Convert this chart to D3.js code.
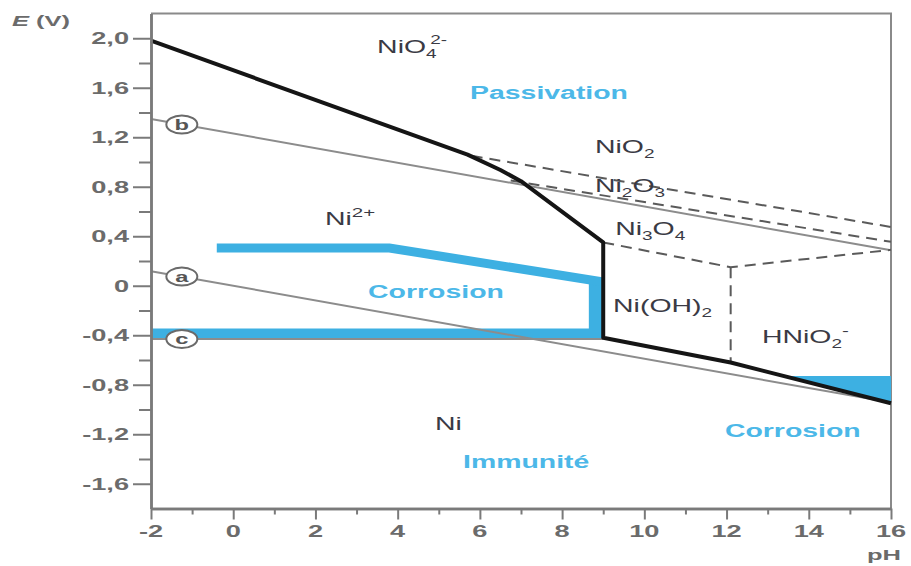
<!DOCTYPE html>
<html>
<head>
<meta charset="utf-8">
<script src="https://cdn.jsdelivr.net/npm/d3@7/dist/d3.min.js"></script>
<style>
  html, body { margin: 0; padding: 0; background: #fff; }
  svg { display: block; font-family: "Liberation Sans", Arial, sans-serif; }
</style>
</head>
<body>
<svg id="chart" width="911" height="566"></svg>
<script>
// Pourbaix diagram of nickel (E vs pH, 25 °C)

// axis ticks
const pHMajor = [-2, 0, 2, 4, 6, 8, 10, 12, 14, 16];
const pHMinor = [-1, 1, 3, 5, 7, 9, 11, 13, 15];
const EMajor = [2.0, 1.6, 1.2, 0.8, 0.4, 0, -0.4, -0.8, -1.2, -1.6];
const EMajorLabels = ["2,0", "1,6", "1,2", "0,8", "0,4", "0", "-0,4", "-0,8", "-1,2", "-1,6"];
const EMinor = [1.8, 1.4, 1.0, 0.6, 0.2, -0.2, -0.6, -1.0, -1.4];

// water stability lines (a: H2, b: O2) and Ni2+/Ni line (c)
const lineA = [[-2, 0.118], [16, -0.944]];
const lineB = [[-2, 1.348], [16, 0.286]];
const lineC = [[-2, -0.43], [9, -0.43]];

// solid boundary of the soluble / solid domains
const mainBoundary = [[-2, 1.98], [5.7, 1.06], [6.5, 0.935], [7.0, 0.845], [9, 0.35],
                      [9, -0.42], [12.1, -0.62], [16, -0.95]];

// dashed boundaries between oxides
const dashNiO2 = [[5.8, 1.05], [16, 0.475]];
const dashNi2O3 = [[6.75, 0.85], [16, 0.355]];
const dashNi3O4 = [[9, 0.35], [12.1, 0.15], [16, 0.29]];
const dashHNiO2 = [[12.1, 0.15], [12.1, -0.62]];

// corrosion outline (acid side) and alkaline corrosion area
const corrosionTop = [[-0.4, 0.305], [3.8, 0.305], [9, 0.03]];
const corrosionBand = [[-2, -0.345], [8.65, -0.345], [8.65, 0.06], [9, 0.04], [9, -0.425], [-2, -0.425]];
const alkalineCorrosion = [[13.4, -0.73], [16, -0.73], [16, -0.95]];

// line markers
const markers = [
  { id: "a", pH: -1.25, line: lineA },
  { id: "b", pH: -1.25, line: lineB },
  { id: "c", pH: -1.25, line: lineC }
];

// species and domain names: [pH, E, parts, kind]
const regionLabels = [
  [3.5, 1.88, [["NiO", ""], ["4", "sub"], ["2-", "supover"]], "species"],
  [5.76, 1.51, [["Passivation", ""]], "domain"],
  [8.8, 1.07, [["NiO", ""], ["2", "sub"]], "species"],
  [8.8, 0.757, [["Ni", ""], ["2", "sub"], ["O", ""], ["3", "sub"]], "species"],
  [9.29, 0.41, [["Ni", ""], ["3", "sub"], ["O", ""], ["4", "sub"]], "species"],
  [2.23, 0.49, [["Ni", ""], ["2+", "sup"]], "species"],
  [3.28, -0.10, [["Corrosion", ""]], "domain"],
  [9.24, -0.212, [["Ni(OH)", ""], ["2", "sub"]], "species"],
  [12.86, -0.463, [["HNiO", ""], ["2", "sub"], ["-", "sup"]], "species"],
  [4.91, -1.166, [["Ni", ""]], "species"],
  [5.59, -1.473, [["Immunité", ""]], "domain"],
  [11.96, -1.222, [["Corrosion", ""]], "domain"]
];

const SX = 1.58;      // horizontal text stretch
const SX_TICK = 1.7;  // stretch of tick labels

const svg = d3.select("#chart");
const x = d3.scaleLinear().domain([-2, 16]).range([151, 891]);
const y = d3.scaleLinear().domain([-1.8, 2.2]).range([508.5, 13.5]);
const line = d3.line().x(d => x(d[0])).y(d => y(d[1]));

const BLUE = "#3db0e2";
const BLUE_TEXT = "#4cb8e8";
const GRAY_LINE = "#8c8c8c";
const AXIS = "#7a7a7a";

// frame top and right
svg.append("path")
  .attr("d", `M${x(-2)},${y(2.2)}H${x(16)}V${y(-1.8)}`)
  .attr("fill", "none").attr("stroke", "#8a8a8a").attr("stroke-width", 2);

// corrosion shapes
svg.append("path").datum(corrosionBand).attr("d", d => line(d) + "Z")
  .attr("fill", BLUE);
svg.append("path").datum(corrosionTop).attr("d", line)
  .attr("fill", "none").attr("stroke", BLUE).attr("stroke-width", 9);
svg.append("path").datum(alkalineCorrosion).attr("d", d => line(d) + "Z")
  .attr("fill", BLUE);

// thin gray lines
[lineA, lineB, lineC].forEach(l => {
  svg.append("path").datum(l).attr("d", line)
    .attr("fill", "none").attr("stroke", GRAY_LINE).attr("stroke-width", 2);
});

// dashed boundaries
[dashNiO2, dashNi2O3, dashNi3O4, dashHNiO2].forEach(l => {
  svg.append("path").datum(l).attr("d", line)
    .attr("fill", "none").attr("stroke", "#5a5a5a").attr("stroke-width", 2)
    .attr("stroke-dasharray", "11,7");
});

// main boundary
svg.append("path").datum(mainBoundary).attr("d", line)
  .attr("fill", "none").attr("stroke", "#151515").attr("stroke-width", 4)
  .attr("stroke-linejoin", "round");

// line markers
function valueOn(l, p) {
  const [p0, e0] = l[0], [p1, e1] = l[l.length - 1];
  return e0 + (e1 - e0) * (p - p0) / (p1 - p0);
}
const mk = svg.selectAll("g.marker").data(markers).join("g")
  .attr("class", "marker")
  .attr("transform", d => `translate(${x(d.pH)},${y(valueOn(d.line, d.pH))})`);
mk.append("ellipse").attr("rx", 15.5).attr("ry", 9)
  .attr("fill", "#fff").attr("stroke", "#6a6a6a").attr("stroke-width", 2);
mk.append("text").text(d => d.id)
  .attr("text-anchor", "middle").attr("dy", "0.35em")
  .attr("transform", `scale(${SX},1)`)
  .attr("font-size", 15).attr("font-weight", "bold").attr("fill", "#555");

// axes
const yMajor = svg.append("g").attr("transform", `translate(${x(-2)},0)`)
  .call(d3.axisLeft(y).tickValues(EMajor).tickSize(18).tickSizeOuter(0).tickFormat(""));
const yMin = svg.append("g").attr("transform", `translate(${x(-2)},0)`)
  .call(d3.axisLeft(y).tickValues(EMinor).tickSize(12).tickSizeOuter(0).tickFormat(""));
const xMajor = svg.append("g").attr("transform", `translate(0,${y(-1.8)})`)
  .call(d3.axisBottom(x).tickValues(pHMajor).tickSize(11).tickSizeOuter(0).tickFormat(""));
const xMin = svg.append("g").attr("transform", `translate(0,${y(-1.8)})`)
  .call(d3.axisBottom(x).tickValues(pHMinor).tickSize(6).tickSizeOuter(0).tickFormat(""));
[yMajor, yMin, xMajor, xMin].forEach(g => {
  g.selectAll("path.domain").attr("stroke", AXIS).attr("stroke-width", 2.5);
  g.selectAll(".tick line").attr("stroke", AXIS).attr("stroke-width", 2);
});

// tick labels
svg.selectAll("text.ylab").data(EMajor).join("text").attr("class", "ylab")
  .attr("transform", d => `translate(${x(-2) - 22},${y(d)}) scale(${SX_TICK},1)`)
  .attr("text-anchor", "end").attr("dy", "0.36em")
  .attr("font-size", 16).attr("font-weight", "bold").attr("fill", "#6b6b6b")
  .text((d, i) => EMajorLabels[i]);
svg.selectAll("text.xlab").data(pHMajor).join("text").attr("class", "xlab")
  .attr("text-anchor", "middle")
  .attr("font-size", 16).attr("font-weight", "bold").attr("fill", "#6b6b6b")
  .text(d => d)
  .attr("transform", d => `translate(${x(d)},${y(-1.8) + 28}) scale(${SX_TICK},1)`);

// axis titles
const eTitle = svg.append("text")
  .attr("transform", `translate(12,26) scale(${SX_TICK},1)`)
  .attr("font-size", 15).attr("font-weight", "bold").attr("fill", "#6b6b6b");
eTitle.append("tspan").attr("font-style", "italic").text("E");
eTitle.append("tspan").text(" (V)");
svg.append("text")
  .attr("transform", `translate(867,560) scale(${SX_TICK},1)`)
  .attr("font-size", 15).attr("font-weight", "bold").attr("fill", "#6b6b6b")
  .text("pH");

// region labels
regionLabels.forEach(([p, e, parts, kind]) => {
  const isDomain = kind === "domain";
  const t = svg.append("text")
    .attr("transform", `translate(${x(p)},${y(e)}) scale(${SX},1)`)
    .attr("font-size", 18)
    .attr("font-weight", isDomain ? "bold" : "normal")
    .attr("fill", isDomain ? BLUE_TEXT : "#3a3a44");
  let shift = 0;
  parts.forEach(([s, role]) => {
    const ts = t.append("tspan").text(s);
    let target = 0;
    if (role === "sub") { target = 5; ts.attr("font-size", 12); }
    if (role === "sup") { target = -8; ts.attr("font-size", 13); }
    if (role === "supover") { target = -9; ts.attr("font-size", 12); }
    ts.attr("dy", target - shift);
    shift = target;
    if (role === "supover") ts.attr("dx", -4);
  });
});
</script>
</body>
</html>
